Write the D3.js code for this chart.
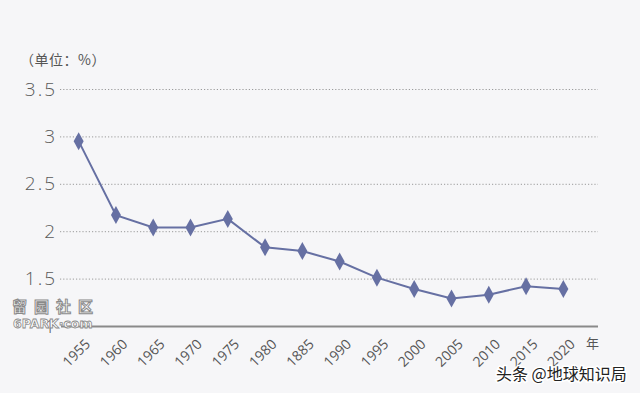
<!DOCTYPE html>
<html>
<head>
<meta charset="utf-8">
<script src="https://cdn.jsdelivr.net/npm/d3@7"></script>
<style>
  html, body { margin: 0; padding: 0; background: #f6f6f8; }
  svg { display: block; font-family: "Noto Sans CJK SC", "Noto Sans", sans-serif; }
</style>
</head>
<body>
<script>
// Data
const years = ['1955', '1960', '1965', '1970', '1975', '1980', '1885', '1990', '1995', '2000', '2005', '2010', '2015', '2020']
const values = [2.95, 2.17, 2.04, 2.04, 2.13, 1.83, 1.79, 1.68, 1.51, 1.39, 1.29, 1.33, 1.42, 1.39]
const yTicks = [1, 1.5, 2, 2.5, 3, 3.5]
const yTickLabels = ['1', '1.5', '2', '2.5', '3', '3.5']

const width = 640
const height = 393
const color = '#6670a3'

const xScale = d3.scalePoint()
  .domain(years)
  .range([60, 582])
  .padding(0.5)

const yScale = d3.scaleLinear()
  .domain([1, 3.5])
  .range([326, 89])

const svg = d3.select('body').append('svg')
  .attr('width', width)
  .attr('height', height)
  .attr('viewBox', [0, 0, width, height].join(' '))

svg.append('rect')
  .attr('width', width)
  .attr('height', height)
  .attr('fill', '#f6f6f8')

// Y axis: dotted grid + labels
const yAxis = (g) => g
  .attr('transform', 'translate(60, 0)')
  .call(d3.axisLeft(yScale)
    .tickValues(yTicks)
    .tickSize(-538)
    .tickPadding(3)
    .tickFormat((d, i) => yTickLabels[i]))
  .call(g => g.select('.domain').remove())
  .call(g => g.selectAll('.tick line')
    .attr('stroke', '#9a9a9a')
    .attr('stroke-width', 1)
    .attr('stroke-dasharray', '1.2,2')
    .filter(d => d === 1).remove())
  .call(g => g.selectAll('.tick text')
    .attr('fill', '#5a5a5a')
    .attr('letter-spacing', 2)
    .style('font-family', '"Open Sans", "Noto Sans", sans-serif')
    .style('font-weight', 300)
    .style('font-size', '19px'))

svg.append('g').call(yAxis)

// X axis
const xAxis = (g) => g
  .attr('transform', 'translate(0, 326)')
  .call(d3.axisBottom(xScale).tickSize(0).tickPadding(0))
  .call(g => g.select('.domain').remove())
  .call(g => g.selectAll('.tick text')
    .attr('fill', '#555')
    .attr('text-anchor', 'end')
    .attr('dy', null)
    .attr('transform', 'translate(12, 19) rotate(-45)')
    .style('font-family', '"Open Sans", "Noto Sans", sans-serif')
    .style('font-size', '14px'))

svg.append('g').call(xAxis)

svg.append('line')
  .attr('x1', 61)
  .attr('x2', 598)
  .attr('y1', 326.5)
  .attr('y2', 326.5)
  .attr('stroke', '#8a8a8a')
  .attr('stroke-width', 2)

svg.append('text')
  .attr('x', 586)
  .attr('y', 348)
  .attr('fill', '#555')
  .style('font-size', '13px')
  .text('年')

svg.append('text')
  .attr('x', 20)
  .attr('y', 65)
  .attr('fill', '#555')
  .attr('letter-spacing', 0.5)
  .style('font-size', '14px')
  .text('（单位：%）')

// Line + markers
const line = d3.line()
  .x((d, i) => xScale(years[i]))
  .y(d => yScale(d))

svg.append('path')
  .datum(values)
  .attr('d', line)
  .attr('fill', 'none')
  .attr('stroke', color)
  .attr('stroke-width', 2)

svg.selectAll('.marker')
  .data(values)
  .enter().append('path')
  .attr('class', 'marker')
  .attr('d', 'M0,-9 L5,0 L0,9 L-5,0 Z')
  .attr('transform', (d, i) => `translate(${xScale(years[i])}, ${yScale(d)})`)
  .attr('fill', color)

// Watermarks
svg.append('text')
  .attr('x', 12)
  .attr('y', 312)
  .attr('fill', '#fff')
  .attr('stroke', '#8a8a8a')
  .attr('stroke-width', 1)
  .attr('letter-spacing', 7)
  .style('font-size', '15px')
  .style('font-weight', 700)
  .text('留园社区')

svg.append('text')
  .attr('x', 13)
  .attr('y', 328)
  .attr('fill', '#fff')
  .attr('stroke', '#8a8a8a')
  .attr('stroke-width', 0.8)
  .style('font-family', '"DejaVu Sans", sans-serif')
  .style('font-size', '12.5px')
  .style('font-weight', 700)
  .text('6PARK·com')

svg.append('text')
  .attr('x', 496)
  .attr('y', 380)
  .attr('fill', '#222')
  .attr('stroke', '#fff')
  .attr('stroke-width', 3)
  .attr('paint-order', 'stroke')
  .style('font-size', '16px')
  .text('头条 @地球知识局')
</script>
</body>
</html>
